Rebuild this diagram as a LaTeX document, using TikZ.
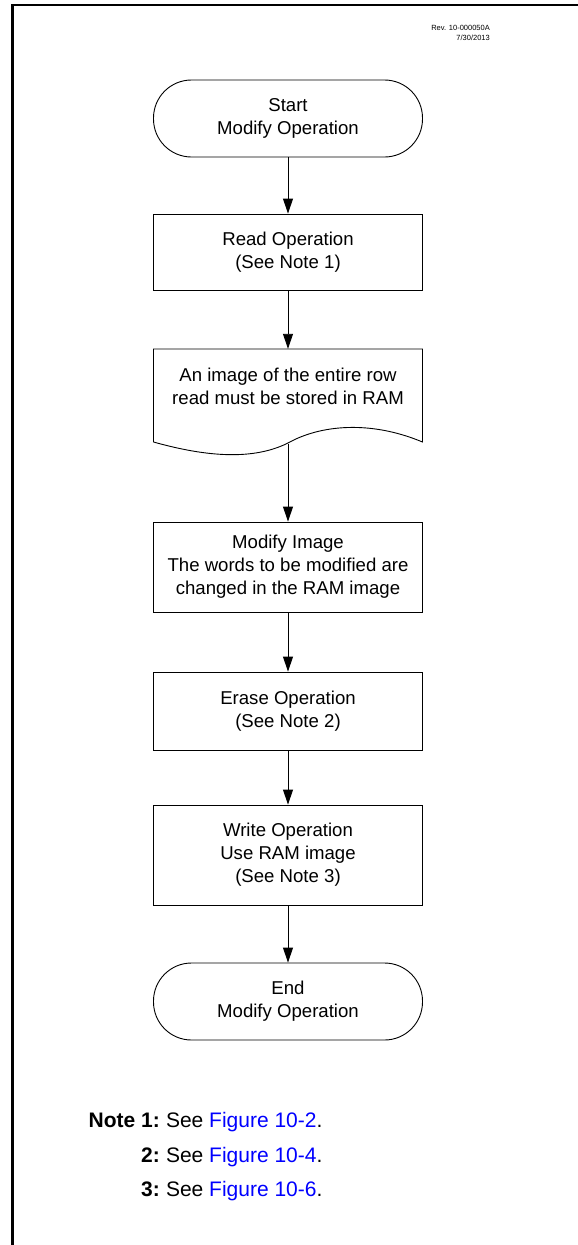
\documentclass[tikz,border=0pt]{standalone}
\usepackage{fontspec}
\setmainfont{Liberation Sans}
\usetikzlibrary{arrows.meta}
\definecolor{figblue}{RGB}{0,0,255}
\begin{document}
\begin{tikzpicture}[x=1pt,y=-1pt,
  boxtext/.style={font=\fontsize{18.6}{23}\selectfont, align=center},
  stepbox/.style={boxtext, draw, line width=0.9pt, minimum width=269pt, inner sep=0pt},
  term/.style={stepbox, rounded corners=38pt},
  flow/.style={line width=0.9pt, -{Triangle[length=15pt,width=10pt]}},
  notetext/.style={font=\fontsize{21}{24}\selectfont, inner sep=0pt, anchor=base east}
]
\useasboundingbox (0,0) rectangle (578,1245);
\fill[white] (0,0) rectangle (578,1245);
\draw[line width=2.2pt] (578,5) -- (12.5,5) -- (12.5,1245);

\node[font=\fontsize{7.5}{10}\selectfont, align=right, anchor=north east, inner sep=0pt] (rev) at (490,25) {Rev. 10-000050A\\7/30/2013};

\node[term, minimum height=77pt] (start) at (288,118.5) {Start\\Modify Operation};
\node[stepbox, minimum height=76pt] (read) at (288,252) {Read Operation\\(See Note 1)};

% document shape
\draw[line width=0.9pt] (153.5,442) -- (153.5,349) -- (422.5,349) -- (422.5,442)
  .. controls (370,420) and (320,425) .. (288,443)
  .. controls (250,462) and (200,455) .. (153.5,442);
\node[minimum width=269pt, minimum height=93pt, inner sep=0pt] (doc) at (288,395.5) {};
\node[boxtext, inner sep=0pt] (doclabel) at (288,386) {An image of the entire row\\read must be stored in RAM};
\coordinate (docbot) at (288,444);

\node[stepbox, minimum height=90pt] (modify) at (288,567) {Modify Image\\The words to be modified are\\changed in the RAM image};
\node[stepbox, minimum height=78pt] (erase) at (288,711) {Erase Operation\\(See Note 2)};
\node[stepbox, minimum height=100pt] (write) at (288,855) {Write Operation\\Use RAM image\\(See Note 3)};
\node[term, minimum height=77pt] (end) at (288,1001.5) {End\\Modify Operation};

\draw[flow] (start) -- (read);
\draw[flow] (read) -- (doc.north);
\draw[flow] (docbot) -- (modify);
\draw[flow] (modify) -- (erase);
\draw[flow] (erase) -- (write);
\draw[flow] (write) -- (end);

\node[notetext] (n1) at (160,1127) {\textbf{Note 1:}};
\node[notetext, anchor=base west] (f1) at (n1.base east) {\ See \textcolor{figblue}{Figure 10-2}.};
\node[notetext] (n2) at (160,1162) {\textbf{2:}};
\node[notetext, anchor=base west] (f2) at (n2.base east) {\ See \textcolor{figblue}{Figure 10-4}.};
\node[notetext] (n3) at (160,1196) {\textbf{3:}};
\node[notetext, anchor=base west] (f3) at (n3.base east) {\ See \textcolor{figblue}{Figure 10-6}.};
\end{tikzpicture}
\end{document}
